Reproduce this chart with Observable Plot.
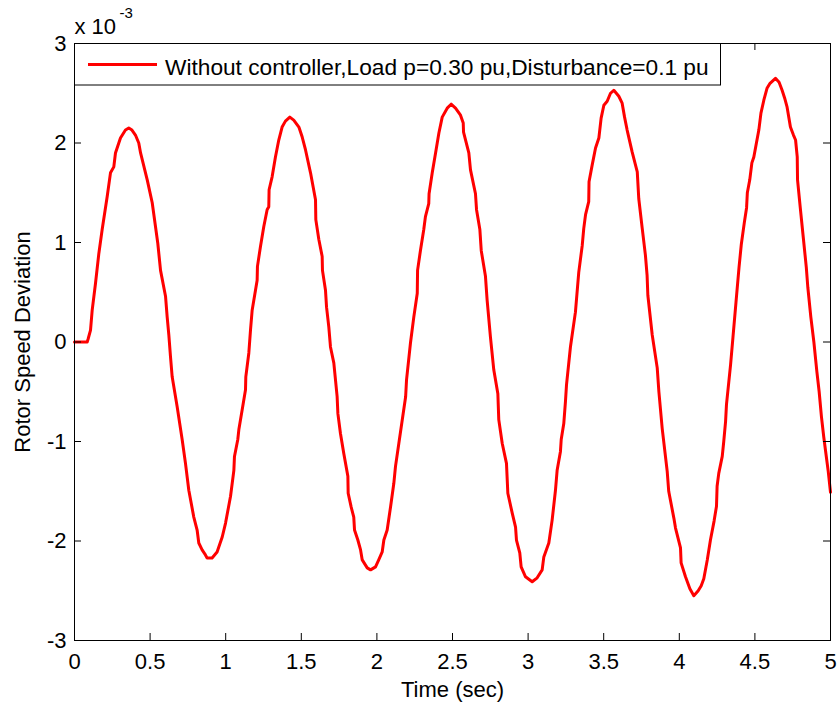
<!DOCTYPE html>
<html>
<head>
<meta charset="utf-8">
<script src="https://cdn.jsdelivr.net/npm/d3@7"></script>
<script src="https://cdn.jsdelivr.net/npm/@observablehq/plot@0.6"></script>
<style>
  body { margin: 0; background: #fff; }
  #wrap { position: relative; width: 839px; height: 707px; font-family: "Liberation Sans", Arial, sans-serif; }
  #legend { position: absolute; left: 0; top: 0; pointer-events: none; }
</style>
</head>
<body>
<div id="wrap"></div>
<script>
// Time (s)
const time = [
  0, 0.084, 0.09, 0.106, 0.117, 0.139, 0.161, 0.183, 0.216, 0.238, 0.26, 0.271, 0.304, 0.337, 0.359, 0.38,
  0.403, 0.425, 0.437, 0.481, 0.514, 0.551, 0.569, 0.602, 0.613, 0.624, 0.635, 0.646, 0.679, 0.712, 0.734,
  0.756, 0.789, 0.811, 0.822, 0.844, 0.866, 0.877, 0.91, 0.943, 0.977, 0.999, 1.032, 1.054, 1.058, 1.08,
  1.087, 1.109, 1.131, 1.133, 1.153, 1.164, 1.175, 1.197, 1.208, 1.21, 1.23, 1.252, 1.274, 1.285, 1.287,
  1.307, 1.329, 1.351, 1.373, 1.395, 1.424, 1.45, 1.484, 1.506, 1.528, 1.561, 1.594, 1.596, 1.616, 1.638,
  1.64, 1.66, 1.667, 1.682, 1.693, 1.715, 1.737, 1.742, 1.759, 1.781, 1.808, 1.81, 1.83, 1.847, 1.852,
  1.874, 1.892, 1.903, 1.936, 1.958, 1.991, 2.012, 2.035, 2.046, 2.068, 2.09, 2.112, 2.123, 2.145, 2.19,
  2.196, 2.222, 2.244, 2.267, 2.269, 2.288, 2.31, 2.321, 2.343, 2.345, 2.366, 2.388, 2.41, 2.432, 2.465,
  2.491, 2.52, 2.553, 2.571, 2.573, 2.608, 2.619, 2.652, 2.659, 2.681, 2.69, 2.718, 2.729, 2.751, 2.773,
  2.8, 2.806, 2.829, 2.857, 2.866, 2.895, 2.917, 2.923, 2.945, 2.954, 2.983, 3.027, 3.06, 3.093, 3.104,
  3.137, 3.159, 3.181, 3.192, 3.214, 3.219, 3.236, 3.247, 3.254, 3.28, 3.313, 3.335, 3.358, 3.368, 3.38,
  3.401, 3.403, 3.424, 3.446, 3.468, 3.483, 3.501, 3.523, 3.545, 3.567, 3.6, 3.622, 3.638, 3.655, 3.688,
  3.722, 3.732, 3.755, 3.776, 3.787, 3.792, 3.821, 3.854, 3.865, 3.887, 3.92, 3.93, 3.964, 3.975, 4.008,
  4.012, 4.041, 4.07, 4.096, 4.125, 4.145, 4.162, 4.185, 4.206, 4.23, 4.246, 4.25, 4.261, 4.284, 4.294,
  4.306, 4.312, 4.339, 4.355, 4.375, 4.395, 4.41, 4.43, 4.445, 4.45, 4.466, 4.48, 4.493, 4.51, 4.526,
  4.54, 4.559, 4.58, 4.6, 4.636, 4.66, 4.68, 4.697, 4.713, 4.735, 4.755, 4.769, 4.78, 4.782, 4.8, 4.82,
  4.84, 4.85, 4.87, 4.89, 4.91, 4.925, 4.94, 4.955, 4.967, 4.985, 5.0
];
// Rotor speed deviation (x 10^-3)
const speed = [
  0, 0, 0.03, 0.12, 0.32, 0.59, 0.89, 1.13, 1.46, 1.70, 1.76, 1.90, 2.05, 2.13, 2.15, 2.13,
  2.08, 2.00, 1.90, 1.63, 1.40, 0.99, 0.72, 0.46, 0.25, 0.07, -0.15, -0.35, -0.65, -0.98, -1.22,
  -1.49, -1.76, -1.89, -2.02, -2.09, -2.14, -2.17, -2.17, -2.11, -1.96, -1.82, -1.55, -1.29, -1.15, -0.98,
  -0.88, -0.68, -0.48, -0.35, -0.11, 0.12, 0.32, 0.52, 0.62, 0.76, 0.96, 1.16, 1.33, 1.36, 1.53,
  1.66, 1.86, 2.03, 2.16, 2.22, 2.26, 2.23, 2.16, 2.06, 1.93, 1.70, 1.43, 1.23, 1.03, 0.86,
  0.72, 0.52, 0.35, 0.15, -0.05, -0.21, -0.55, -0.72, -0.92, -1.12, -1.35, -1.52, -1.66, -1.76, -1.89,
  -1.99, -2.09, -2.19, -2.27, -2.29, -2.26, -2.19, -2.11, -1.99, -1.89, -1.66, -1.42, -1.25, -1.02, -0.55,
  -0.38, -0.01, 0.25, 0.49, 0.72, 0.92, 1.13, 1.26, 1.39, 1.49, 1.70, 1.90, 2.10, 2.26, 2.35,
  2.39, 2.35, 2.28, 2.20, 2.11, 1.90, 1.73, 1.49, 1.33, 1.13, 0.92, 0.66, 0.42, 0.05, -0.28,
  -0.52, -0.78, -1.02, -1.22, -1.52, -1.72, -1.86, -1.99, -2.12, -2.26, -2.36, -2.41, -2.37, -2.29, -2.16,
  -2.02, -1.79, -1.49, -1.29, -1.10, -0.98, -0.82, -0.60, -0.43, -0.05, 0.30, 0.70, 0.97, 1.14, 1.28,
  1.41, 1.61, 1.78, 1.95, 2.05, 2.25, 2.38, 2.42, 2.50, 2.53, 2.47, 2.40, 2.26, 2.13, 1.91,
  1.71, 1.44, 1.14, 0.87, 0.67, 0.47, 0.07, -0.26, -0.50, -0.87, -1.30, -1.50, -1.77, -1.87, -2.07,
  -2.22, -2.36, -2.48, -2.55, -2.50, -2.45, -2.38, -2.19, -1.99, -1.80, -1.65, -1.45, -1.32, -1.15, -1.00,
  -0.80, -0.63, -0.23, 0.05, 0.40, 0.75, 0.98, 1.20, 1.35, 1.50, 1.63, 1.80, 1.86, 2.00, 2.13,
  2.30, 2.43, 2.55, 2.60, 2.65, 2.61, 2.53, 2.45, 2.36, 2.16, 2.08, 2.03, 1.86, 1.63, 1.35, 1.05,
  0.75, 0.55, 0.25, 0.0, -0.30, -0.50, -0.75, -0.95, -1.09, -1.30, -1.51
];
const xTicks = [0, 0.5, 1, 1.5, 2, 2.5, 3, 3.5, 4, 4.5, 5];
const yTicks = [-3, -2, -1, 0, 1, 2, 3];
const xLabel = "Time (sec)";
const yLabel = "Rotor Speed Deviation";
const legendLabel = "Without controller,Load p=0.30 pu,Disturbance=0.1 pu";
const exponentBase = "x 10";
const exponentPower = "-3";

const data = time.map((t, i) => ({t, v: speed[i]}));

const W = 839, H = 707, mL = 74, mR = 9, mT = 43, mB = 67;
const fw = W - mL - mR, fh = H - mT - mB;
const tk = 7;
const font = "'Liberation Sans', Arial, sans-serif";

const chart = Plot.plot({
  width: W, height: H,
  marginLeft: mL, marginRight: mR, marginTop: mT, marginBottom: mB,
  style: {fontFamily: font, fontSize: "22px", color: "#000", background: "#fff", overflow: "visible"},
  x: {domain: [0, 5]},
  y: {domain: [-3, 3]},
  marks: [
    Plot.line(data, {x: "t", y: "v", stroke: "#ff0000", strokeWidth: 3, strokeLinejoin: "round", strokeLinecap: "round"}),
    Plot.ruleX(xTicks, {stroke: "#000", insetTop: fh - tk}),
    Plot.ruleX(xTicks, {stroke: "#000", insetBottom: fh - tk}),
    Plot.ruleY(yTicks, {stroke: "#000", insetRight: fw - tk}),
    Plot.ruleY(yTicks, {stroke: "#000", insetLeft: fw - tk}),
    Plot.frame({stroke: "#000"}),
    Plot.axisX(xTicks, {tickSize: 0, tickPadding: 13, tickFormat: d => String(d), label: null, fontSize: 22}),
    Plot.axisY(yTicks, {tickSize: 0, tickPadding: 8, tickFormat: d => String(d), label: null, fontSize: 22}),
    Plot.text([xLabel], {text: d => d, frameAnchor: "bottom", textAnchor: "middle", lineAnchor: "middle", dy: 49, fontSize: 22}),
    Plot.text([yLabel], {text: d => d, frameAnchor: "left", textAnchor: "middle", lineAnchor: "middle", rotate: -90, dx: -52, fontSize: 22}),
    Plot.text([exponentBase], {text: d => d, frameAnchor: "top-left", textAnchor: "start", lineAnchor: "middle", dx: 0, dy: -17, fontSize: 22}),
    Plot.text([exponentPower], {text: d => d, frameAnchor: "top-left", textAnchor: "start", lineAnchor: "middle", dx: 45, dy: -30, fontSize: 15})
  ]
});

const wrap = document.getElementById("wrap");
wrap.appendChild(chart);

// Legend box (drawn over the top-left of the axes, as in the original)
const ns = "http://www.w3.org/2000/svg";
const lg = document.createElementNS(ns, "svg");
lg.setAttribute("id", "legend");
lg.setAttribute("width", W);
lg.setAttribute("height", H);
const rect = document.createElementNS(ns, "rect");
rect.setAttribute("x", 74.5); rect.setAttribute("y", 43.5);
rect.setAttribute("width", 646); rect.setAttribute("height", 41.5);
rect.setAttribute("fill", "#fff"); rect.setAttribute("stroke", "#000"); rect.setAttribute("stroke-width", 1);
lg.appendChild(rect);
const ln = document.createElementNS(ns, "line");
ln.setAttribute("x1", 88); ln.setAttribute("x2", 157);
ln.setAttribute("y1", 64.5); ln.setAttribute("y2", 64.5);
ln.setAttribute("stroke", "#ff0000"); ln.setAttribute("stroke-width", 3);
lg.appendChild(ln);
const tx = document.createElementNS(ns, "text");
tx.setAttribute("x", 165); tx.setAttribute("y", 75);
tx.setAttribute("font-family", font); tx.setAttribute("font-size", 22.7);
tx.setAttribute("fill", "#000");
tx.textContent = legendLabel;
lg.appendChild(tx);
wrap.appendChild(lg);
</script>
</body>
</html>
